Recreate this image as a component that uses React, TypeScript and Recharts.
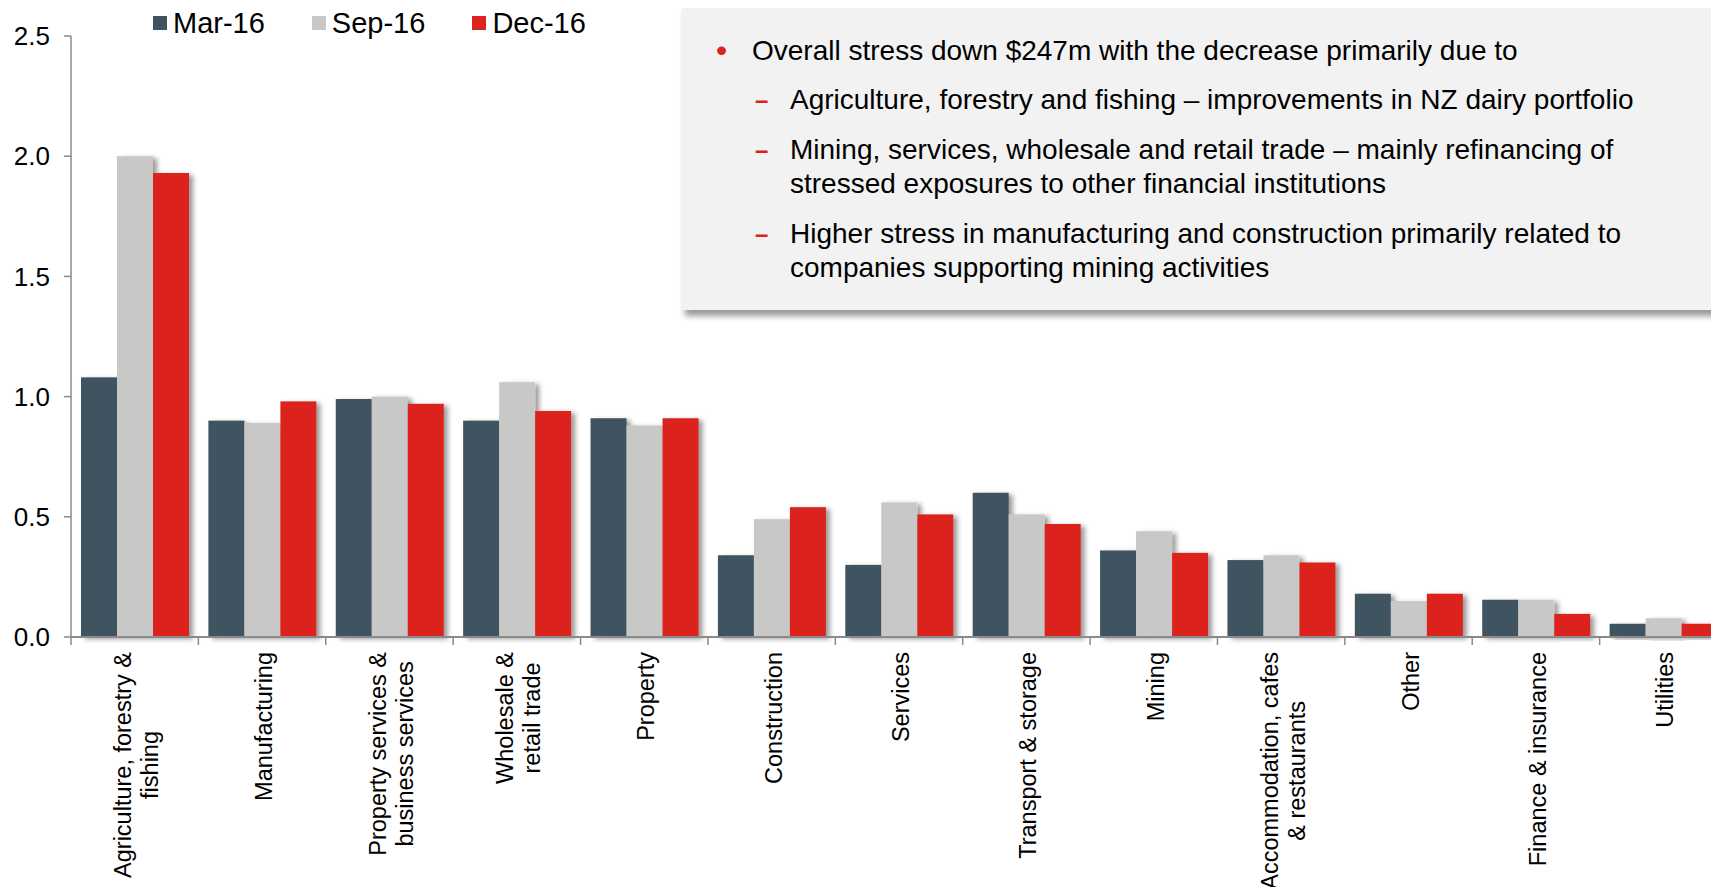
import React from 'react';
import { BarChart, Bar, XAxis, YAxis } from 'recharts';

const categories = [
  'Agriculture, forestry &\nfishing',
  'Manufacturing',
  'Property services &\nbusiness services',
  'Wholesale &\nretail trade',
  'Property',
  'Construction',
  'Services',
  'Transport & storage',
  'Mining',
  'Accommodation, cafes\n& restaurants',
  'Other',
  'Finance & insurance',
  'Utilities',
];
const mar16 = [1.08, 0.9, 0.99, 0.9, 0.91, 0.34, 0.3, 0.6, 0.36, 0.32, 0.18, 0.155, 0.055];
const sep16 = [2.0, 0.89, 1.0, 1.06, 0.88, 0.49, 0.56, 0.51, 0.44, 0.34, 0.15, 0.155, 0.078];
const dec16 = [1.93, 0.98, 0.97, 0.94, 0.91, 0.54, 0.51, 0.47, 0.35, 0.31, 0.18, 0.096, 0.055];
const seriesNames = ['Mar-16', 'Sep-16', 'Dec-16'];
const seriesKeys = ['mar', 'sep', 'dec'];
const seriesColors = ['#415361', '#C8C8C6', '#DC231F'];
const yTicks = [0, 0.5, 1.0, 1.5, 2.0, 2.5];

const commentary = [
  { kind: 'bullet', lines: ['Overall stress down $247m with the decrease primarily due to'] },
  { kind: 'dash', lines: ['Agriculture, forestry and fishing \u2013 improvements in NZ dairy portfolio'] },
  { kind: 'dash', lines: ['Mining, services, wholesale and retail trade \u2013 mainly refinancing of', 'stressed exposures to other financial institutions'] },
  { kind: 'dash', lines: ['Higher stress in manufacturing and construction primarily related to', 'companies supporting mining activities'] },
];
const paraTops = [29, 78, 128, 212];

const data = categories.map((c, i) => ({ name: c, mar: mar16[i], sep: sep16[i], dec: dec16[i] }));

const FONT = "'Liberation Sans', Arial, Helvetica, sans-serif";
const LABEL_SIZE = 23.5;

let ctx: any = null;
function measure(t: string) {
  if (!ctx) {
    const c = document.createElement('canvas');
    ctx = c.getContext('2d');
  }
  ctx.font = `${LABEL_SIZE}px ${FONT}`;
  return ctx.measureText(t).width;
}

const CHART_W = 1730;
const CHART_H = 887;
const PLOT_H = 601;
const MARGIN = { top: 28, right: 11, bottom: 0, left: 0 };
const Y_W = 63;

function CatTick(props: any) {
  const { x, y, payload } = props;
  const plotW = CHART_W - MARGIN.left - MARGIN.right - Y_W;
  const half = payload && payload.offset ? payload.offset : plotW / categories.length / 2;
  const lines = String(payload.value).split('\n');
  const W = Math.max(...lines.map(measure));
  const top = y + 15;
  const cy = top + W / 2;
  const lh = 27;
  const n = lines.length;
  const cx = x + 2;
  return (
    <g>
      <line x1={x - half} x2={x - half} y1={y} y2={y + 8} stroke="#8a8a8a" strokeWidth={1.5} />
      <text transform={`rotate(-90, ${cx}, ${cy})`} fontSize={LABEL_SIZE} fill="#000" textAnchor="middle">
        {lines.map((l, i) => (
          <tspan key={i} x={cx} y={cy + (i - (n - 1) / 2) * lh} dominantBaseline="central">
            {l}
          </tspan>
        ))}
      </text>
    </g>
  );
}

const ShadowBar = (props: any) => {
  const { x, y, width, height, fill } = props;
  if (!height || height <= 0) return null;
  return <rect x={x} y={y} width={width} height={height} fill={fill} filter="url(#barShadow)" />;
};

export default function App() {
  return (
    <div style={{ position: 'relative', width: 1711, height: CHART_H, marginBottom: -8, fontFamily: FONT }}>
      <svg width={0} height={0} style={{ position: 'absolute' }}>
        <defs>
          <filter id="barShadow" x="-30%" y="-10%" width="170%" height="130%">
            <feDropShadow dx={4} dy={2} stdDeviation={2.5} floodColor="#000" floodOpacity={0.4} />
          </filter>
        </defs>
      </svg>
      <div style={{ position: 'absolute', left: 0, top: 0, width: 1711, height: CHART_H, overflow: 'hidden' }}>
        <BarChart width={CHART_W} height={CHART_H} data={data} margin={MARGIN} barCategoryGap={10} barGap={0}>
          <XAxis
            dataKey="name"
            interval={0}
            height={CHART_H - MARGIN.top - PLOT_H}
            tickLine={false}
            tickSize={0}
            tickMargin={0}
            axisLine={{ stroke: '#8a8a8a', strokeWidth: 2 }}
            tick={<CatTick />}
          />
          <YAxis
            width={Y_W}
            domain={[0, 2.5]}
            ticks={yTicks}
            interval={0}
            tickFormatter={(v: number) => v.toFixed(1)}
            tick={{ fontSize: 26, fill: '#000' }}
            tickSize={7}
            tickMargin={14}
            tickLine={{ stroke: '#8a8a8a', strokeWidth: 1.5 }}
            axisLine={{ stroke: '#8a8a8a', strokeWidth: 1.5 }}
          />
          {seriesKeys.map((k, i) => (
            <Bar key={k} dataKey={k} name={seriesNames[i]} fill={seriesColors[i]} isAnimationActive={false} shape={<ShadowBar />} />
          ))}
        </BarChart>
      </div>
      <div style={{ position: 'absolute', left: 145, top: 0, display: 'flex', alignItems: 'center', gap: 47, height: 30 }}>
        {seriesNames.map((s, i) => (
          <div key={s} style={{ display: 'flex', alignItems: 'center' }}>
            <div style={{ width: 14, height: 14, background: seriesColors[i], marginRight: 6 }} />
            <span style={{ fontSize: 29, color: '#000', lineHeight: '30px' }}>{s}</span>
          </div>
        ))}
      </div>
      <div
        style={{
          position: 'absolute',
          left: 674,
          top: -3,
          width: 1037,
          height: 305,
          background: '#F2F2F2',
          boxShadow: '3px 6px 6px rgba(0,0,0,0.4)',
        }}
      >
        {commentary.map((p, i) => {
          const textLeft = p.kind === 'bullet' ? 70 : 108;
          const isBullet = p.kind === 'bullet';
          return (
            <div key={i} style={{ position: 'absolute', top: paraTops[i], left: 0, width: '100%' }}>
              <span
                style={{
                  position: 'absolute',
                  left: isBullet ? 34 : 73,
                  top: isBullet ? -1 : 0,
                  color: '#DC231F',
                  fontSize: isBullet ? 32 : 24,
                  fontWeight: isBullet ? 'normal' : 'bold',
                  lineHeight: '34px',
                }}
              >
                {isBullet ? '\u2022' : '\u2013'}
              </span>
              <div style={{ position: 'absolute', left: textLeft, top: 0, fontSize: 28, lineHeight: '34px', color: '#000', whiteSpace: 'nowrap' }}>
                {p.lines.map((l, j) => (
                  <div key={j}>{l}</div>
                ))}
              </div>
            </div>
          );
        })}
      </div>
    </div>
  );
}
